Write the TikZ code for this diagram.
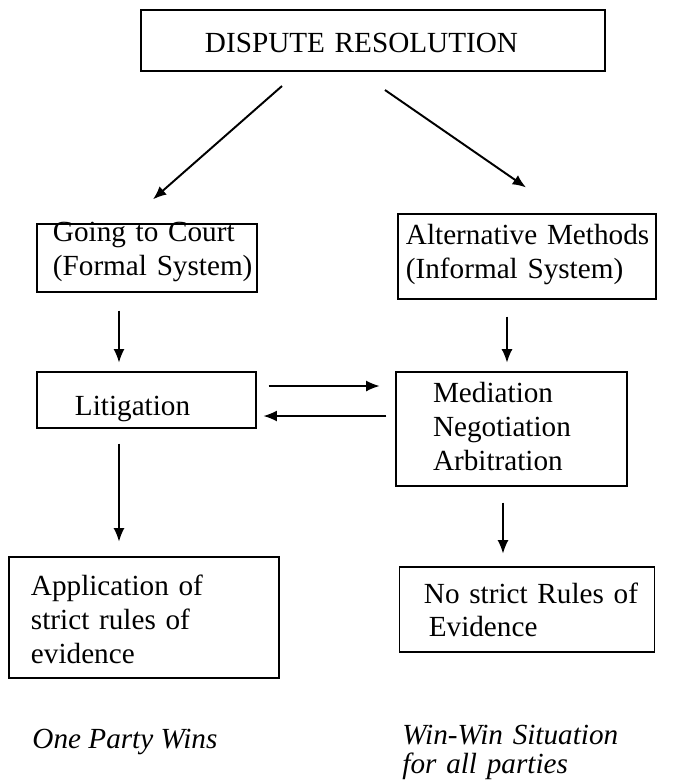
\documentclass[tikz,border=0pt]{standalone}
\usepackage{fontspec}
\setmainfont{Liberation Serif}
\usetikzlibrary{%
	calc,%
	arrows.meta%
}

\tikzset{
	box/.style n args={4}{draw, line width=0.5pt, align=left, inner ysep=0pt,
		text width=#1, inner xsep=#2, text height=#3, text depth=#4},
	arr/.style={-{Latex[length=5.5pt,width=4.5pt]}, line width=0.5pt}
}

\begin{document}
\begin{tikzpicture}[x=0.411pt, y=-0.411pt, font=\fontsize{12}{13.8}\selectfont]
			\useasboundingbox (0,0) rectangle (674,783);
			% Boxes
			\node[box={138.1pt}{26.3pt}{17.3pt}{7.8pt}, line width=0.8pt] (dispute) at (373,40.5) {\mbox{DISPUTE RESOLUTION}};
			\node[box={77.3pt}{6.6pt}{7.4pt}{20.6pt}] (court) at (147,258) {\mbox{Going to Court}\\\mbox{(Formal System)}};
			\node[box={99.5pt}{3.3pt}{12.7pt}{22.2pt}] (alt) at (527,256.5) {\mbox{Alternative Methods}\\\mbox{(Informal System)}};
			\node[box={58.8pt}{15.6pt}{17.7pt}{5.3pt}] (lit) at (146.5,400) {Litigation};
			\node[box={64.5pt}{15.2pt}{12.7pt}{34.1pt}] (adr) at (511.5,429) {Mediation\\Negotiation\\Arbitration};
			\node[box={92.9pt}{9.0pt}{16.0pt}{33.7pt}] (app) at (144,617.5) {\mbox{Application of}\\\mbox{strict rules of}\\evidence};
			\node[box={84.7pt}{9.9pt}{14.8pt}{20.1pt}] (norules) at (527,609.5) {\mbox{No strict Rules of}\\\hspace*{2pt}Evidence};
			
			% Outcomes
			\node[anchor=base west, inner sep=0pt] (onewins) at (32,748) {\itshape One Party Wins};
			\node[anchor=base west, inner sep=0pt, text width=100pt, align=left] (winwin) at (402,744) {\itshape \mbox{Win-Win Situation}\\[-1.5pt]\mbox{for all parties}};
			
			% Arrows
			\draw[arr, line width=0.8pt] ($(dispute.south)+(-91,14)$) -- ($(court.north)+(6,-24)$);
			\draw[arr, line width=0.8pt] ($(dispute.south)+(12,18)$) -- ($(alt.north)+(-1,-26)$);
			\draw[arr] ($(court.south)+(-28,18)$) -- ($(lit.north)+(-27.5,-9)$);
			\draw[arr] ($(alt.south)+(-20,17)$) -- ($(adr.north)+(-4.5,-9)$);
			\draw[arr] ($(lit.east)+(12,-14)$) -- ($(adr.west)+(-16,-43)$);
			\draw[arr] ($(adr.west)+(-9,-13)$) -- ($(lit.east)+(7,16)$);
			\draw[arr] ($(lit.south)+(-27.5,15)$) -- ($(app.north)+(-25,-15)$);
			\draw[arr] ($(adr.south)+(-8.5,16)$) -- ($(norules.north)+(-24,-13)$);
		\end{tikzpicture}
\end{document}
